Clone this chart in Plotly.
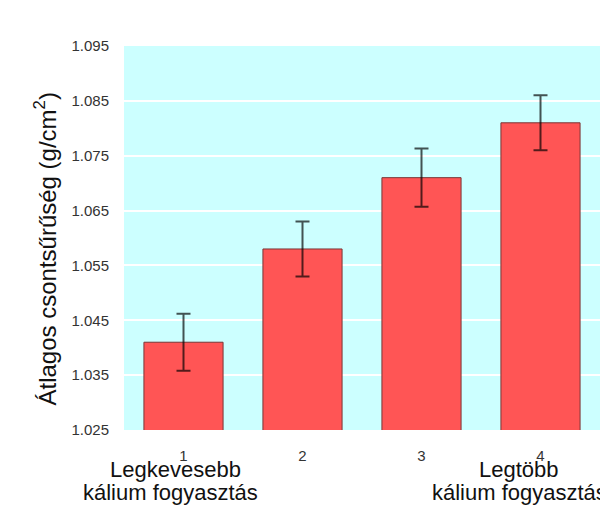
import plotly.graph_objects as go

categories = [1, 2, 3, 4]
means = [1.041, 1.058, 1.071, 1.081]
errors = [0.0052, 0.0050, 0.0053, 0.0050]
y_ticks = [1.025, 1.035, 1.045, 1.055, 1.065, 1.075, 1.085, 1.095]
y_tick_labels = ["1.025", "1.035", "1.045", "1.055", "1.065", "1.075", "1.085", "1.095"]
x_tick_labels = ["1", "2", "3", "4"]
low_label = ["Legkevesebb", "kálium fogyasztás"]
high_label = ["Legtöbb", "kálium fogyasztás"]

FONT = "Liberation Sans, Arial, sans-serif"

fig = go.Figure()
fig.add_trace(go.Bar(
    x=categories, y=means,
    marker=dict(color="#FF5555", line=dict(color="#7a3535", width=1)),
    error_y=dict(type="data", array=errors, visible=True,
                 color="rgba(0,0,0,0.68)", thickness=2, width=7),
))

annotations = [
    dict(text="Átlagos csontsűrűség (g/cm<sup>2</sup>)", textangle=-90,
         xref="paper", yref="paper", x=(45 - 124) / 476, y=0.47,
         xanchor="center", yanchor="middle", showarrow=False,
         font=dict(size=24, family=FONT, color="#111111")),
]
line_y = [-0.1016, -0.1615]
for lbl, xc, xs in [(low_label, 0.93, [0.0, -0.04]), (high_label, 3.82, [0.0, 0.0])]:
    for i, t in enumerate(lbl):
        annotations.append(dict(
            text=t, xref="x", yref="paper", x=xc + xs[i], y=line_y[i],
            xanchor="center", yanchor="middle", showarrow=False,
            font=dict(size=22, family=FONT, color="#111111")))

fig.update_layout(
    width=600, height=507,
    margin=dict(l=124, r=0, t=46, b=77),
    paper_bgcolor="white",
    plot_bgcolor="#CCFFFF",
    bargap=0.335,
    showlegend=False,
    font=dict(family=FONT, color="#333333"),
    xaxis=dict(
        tickmode="array", tickvals=categories, ticktext=x_tick_labels,
        range=[0.5, 4.5], showgrid=False, zeroline=False,
        ticks="outside", ticklen=12, tickcolor="rgba(0,0,0,0)",
        tickfont=dict(size=15, family=FONT, color="#333333"),
        showline=False,
    ),
    yaxis=dict(
        tickmode="array", tickvals=y_ticks, ticktext=y_tick_labels,
        range=[1.025, 1.095], showgrid=True, gridcolor="white", gridwidth=2,
        zeroline=False, ticks="outside", ticklen=11, tickcolor="rgba(0,0,0,0)",
        tickfont=dict(size=15, family=FONT, color="#333333"),
        showline=False,
    ),
    annotations=annotations,
)

fig.write_html("out.html")
